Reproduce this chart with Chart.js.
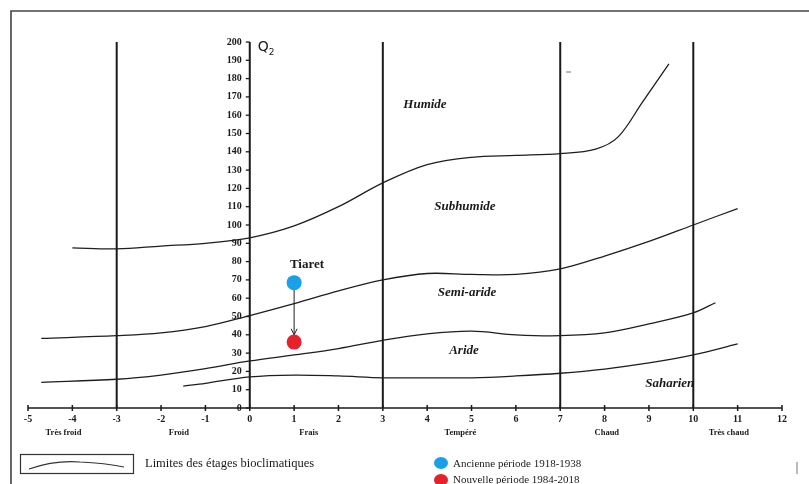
<!DOCTYPE html>
<html lang="fr">
<head>
<meta charset="utf-8">
<title>Climagramme d'Emberger - Tiaret</title>
<style>
  html, body { margin: 0; padding: 0; background: #fff; }
  #wrap { width: 809px; height: 484px; position: relative; }
  canvas { display: block; }
</style>
</head>
<body>
<div id="wrap"><canvas id="canvas" width="809" height="484"></canvas></div>
<script src="https://cdn.jsdelivr.net/npm/chart.js"></script>
<script>
// ---- data ----
const xTicks = [-5, -4, -3, -2, -1, 0, 1, 2, 3, 4, 5, 6, 7, 8, 9, 10, 11, 12];
const yTicks = [0, 10, 20, 30, 40, 50, 60, 70, 80, 90, 100, 110, 120, 130, 140, 150, 160, 170, 180, 190, 200];
const zoneLines = [-3, 3, 7, 10];

const thermalNames = ['Très froid', 'Froid', 'Frais', 'Tempéré', 'Chaud', 'Très chaud'];
const thermalX     = [-4.2, -1.6, 1.33, 4.75, 8.05, 10.8];

const etageNames = ['Humide', 'Subhumide', 'Semi-aride', 'Aride', 'Saharien'];
const etageX     = [3.95, 4.85, 4.9, 4.83, 9.47];
const etageQ     = [166, 110, 63, 31.5, 13.5];

// limits between bioclimatic stages (m, Q2)
const limHumide = [[-4, 87.5], [-3, 87], [-2, 88.5], [-1, 90], [0, 93], [1, 99.5], [2, 110], [3, 123], [4, 133], [5, 137], [6, 138], [7, 139], [7.8, 141.5], [8.3, 148], [8.85, 167], [9.45, 188]];
const limSubhumide = [[-4.7, 38], [-3, 39.5], [-2, 41], [-1, 44.5], [0, 50.5], [1, 57], [2, 64], [3, 70], [4, 73.5], [5, 73], [6, 73], [7, 76], [8, 83], [9, 91], [10, 100], [11, 109]];
const limSemiAride = [[-4.7, 14], [-3, 15.7], [-2, 18], [-1, 21.5], [0, 25.7], [1, 29], [2, 32.5], [3, 37], [4, 40.5], [5, 42], [6, 40], [7, 39.5], [8, 41], [9, 46], [10, 52], [10.5, 57.5]];
const limAride = [[-1.5, 12], [-1, 13.5], [0, 17], [1, 18], [2, 17.5], [3, 16.5], [4, 16.5], [5, 16.5], [6, 17.5], [7, 19], [8, 21.3], [9, 24.6], [10, 29], [11, 35]];

const station = 'Tiaret';
const ancien  = {label: 'Ancienne période 1918-1938', m: 1, q: 68.5};
const nouveau = {label: 'Nouvelle période 1984-2018', m: 1, q: 36};

const toPts = arr => arr.map(p => ({x: p[0], y: p[1]}));
const curve = arr => ({
  type: 'line', data: toPts(arr), borderColor: '#1e1e1e', borderWidth: 1.3,
  pointRadius: 0, tension: 0.35, fill: false
});

const ink = '#1a1a1a';
const serif = '"Liberation Serif", "DejaVu Serif", serif';

const decor = {
  id: 'decor',
  beforeDatasetsDraw(chart) {
    const c = chart.ctx, xs = chart.scales.x, ys = chart.scales.y;
    const X = v => xs.getPixelForValue(v), Y = v => ys.getPixelForValue(v);
    c.save();
    // outer frame
    c.strokeStyle = '#444'; c.lineWidth = 1.6;
    c.beginPath(); c.moveTo(11, 484); c.lineTo(11, 11); c.lineTo(809, 11); c.stroke();

    // zone verticals
    c.strokeStyle = ink; c.lineWidth = 2;
    zoneLines.forEach(v => { c.beginPath(); c.moveTo(X(v), Y(200)); c.lineTo(X(v), Y(0)); c.stroke(); });

    // x axis
    c.lineWidth = 1.5;
    c.beginPath(); c.moveTo(X(-5), Y(0)); c.lineTo(X(12), Y(0)); c.stroke();
    xTicks.forEach(v => { c.beginPath(); c.moveTo(X(v), Y(0) - 3); c.lineTo(X(v), Y(0) + 3); c.stroke(); });
    c.fillStyle = ink; c.font = 'bold 10px ' + serif; c.textAlign = 'center'; c.textBaseline = 'middle';
    xTicks.forEach(v => c.fillText(String(v), X(v), 419));
    c.font = 'bold 8.5px ' + serif;
    thermalNames.forEach((t, i) => c.fillText(t, X(thermalX[i]), 433));

    // y axis at m = 0
    c.lineWidth = 2;
    c.beginPath(); c.moveTo(X(0), Y(200)); c.lineTo(X(0), Y(0)); c.stroke();
    c.lineWidth = 1.3;
    yTicks.forEach(v => { c.beginPath(); c.moveTo(X(0) - 4, Y(v)); c.lineTo(X(0), Y(v)); c.stroke(); });
    c.font = 'bold 10px ' + serif; c.textAlign = 'right';
    yTicks.forEach(v => c.fillText(String(v), X(0) - 8, Y(v)));

    // Q2
    c.textAlign = 'left'; c.font = '14px "DejaVu Sans", sans-serif';
    c.fillText('Q', X(0) + 8, Y(197));
    c.font = '9px "DejaVu Sans", sans-serif';
    c.fillText('2', X(0) + 19, Y(194));

    // stage names
    c.textAlign = 'center'; c.font = 'italic bold 13px ' + serif;
    etageNames.forEach((t, i) => c.fillText(t, X(etageX[i]), Y(etageQ[i])));

    // station
    c.font = 'bold 13px ' + serif;
    c.fillText(station, X(1.29), Y(78.5));

    // arrow old -> new
    c.strokeStyle = '#222'; c.lineWidth = 1;
    const ax = X(ancien.m), y1 = Y(ancien.q), y2 = Y(nouveau.q + 4);
    c.beginPath(); c.moveTo(ax, y1); c.lineTo(ax, y2); c.stroke();
    c.beginPath(); c.moveTo(ax - 3, y2 - 6); c.lineTo(ax, y2); c.lineTo(ax + 3, y2 - 6); c.stroke();

    // legend
    c.strokeStyle = '#333'; c.lineWidth = 1.2;
    c.strokeRect(20.5, 454.5, 113, 19);
    c.beginPath(); c.moveTo(29, 469); c.quadraticCurveTo(55, 460, 80, 462); c.quadraticCurveTo(105, 463, 124, 467); c.stroke();
    c.fillStyle = ink; c.textAlign = 'left'; c.font = '12.5px ' + serif;
    c.fillText('Limites des étages bioclimatiques', 145, 464);
    c.font = '11px ' + serif;
    c.fillText(ancien.label, 453, 464);
    c.fillText(nouveau.label, 453, 480);
    c.fillStyle = '#1aa0e8';
    c.beginPath(); c.ellipse(441, 463, 7, 6, 0, 0, Math.PI * 2); c.fill();
    c.fillStyle = '#e6212b';
    c.beginPath(); c.ellipse(441, 480, 7, 6, 0, 0, Math.PI * 2); c.fill();
    // scan marks
    c.strokeStyle = '#777'; c.lineWidth = 1;
    c.beginPath(); c.moveTo(797, 462); c.lineTo(797, 474); c.stroke();
    c.beginPath(); c.moveTo(566, 72); c.lineTo(571, 72); c.stroke();
    c.restore();
  }
};

new Chart(document.getElementById('canvas'), {
  type: 'scatter',
  data: {
    datasets: [
      curve(limHumide), curve(limSubhumide), curve(limSemiAride), curve(limAride),
      {label: ancien.label, data: [{x: ancien.m, y: ancien.q}], backgroundColor: '#1aa0e8', borderWidth: 0, pointRadius: 7.5},
      {label: nouveau.label, data: [{x: nouveau.m, y: nouveau.q}], backgroundColor: '#e6212b', borderWidth: 0, pointRadius: 7.5}
    ]
  },
  options: {
    responsive: false,
    animation: false,
    layout: {padding: {left: 28, right: 27, top: 42, bottom: 76}},
    scales: {
      x: {type: 'linear', min: -5, max: 12, display: false},
      y: {type: 'linear', min: 0, max: 200, display: false}
    },
    plugins: {legend: {display: false}, tooltip: {enabled: false}}
  },
  plugins: [decor]
});
</script>
</body>
</html>
